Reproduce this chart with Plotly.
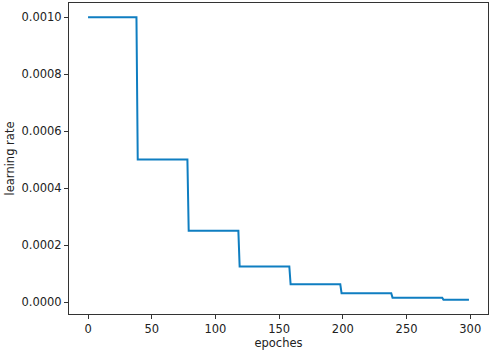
import plotly.graph_objects as go

# step schedule: lr halves every 40 epochs
epochs = [0, 38, 39, 78, 79, 118, 119, 158, 159, 198, 199, 238, 239, 278, 279, 299]
lr = [0.001, 0.001, 0.0005, 0.0005, 0.00025, 0.00025, 0.000125, 0.000125,
      0.0000625, 0.0000625, 0.00003125, 0.00003125, 0.000015625, 0.000015625,
      0.0000078125, 0.0000078125]

x_ticks = [0, 50, 100, 150, 200, 250, 300]
y_ticks = [0.0, 0.0002, 0.0004, 0.0006, 0.0008, 0.0010]

fig = go.Figure(go.Scatter(x=epochs, y=lr, mode='lines',
                           line=dict(color='#0f7ec1', width=2)))

label_font = dict(family='DejaVu Sans', size=11.5, color='#222222')
axis_style = dict(showline=True, linecolor='#333333', linewidth=1, mirror=True,
                  ticks='outside', ticklen=4, tickcolor='#333333',
                  showgrid=False, zeroline=False, automargin=False,
                  tickfont=label_font)

fig.update_layout(
    width=491, height=354,
    margin=dict(l=69, r=3, t=3, b=40),
    plot_bgcolor='white', paper_bgcolor='white',
    showlegend=False,
    font=label_font,
    xaxis=dict(range=[-14.95, 313.95], tickvals=x_ticks,
               title=dict(text='epoches', standoff=4, font=label_font), **axis_style),
    yaxis=dict(range=[-0.0000418, 0.0010496], tickvals=y_ticks, tickformat='.4f',
               title=dict(text='learning rate', standoff=4, font=label_font), **axis_style),
)

# page body has a default 8px margin; drop it so the figure sits at the corner
fig.write_html("out.html", config={'displayModeBar': False},
               post_script="document.body.style.margin='0';")
